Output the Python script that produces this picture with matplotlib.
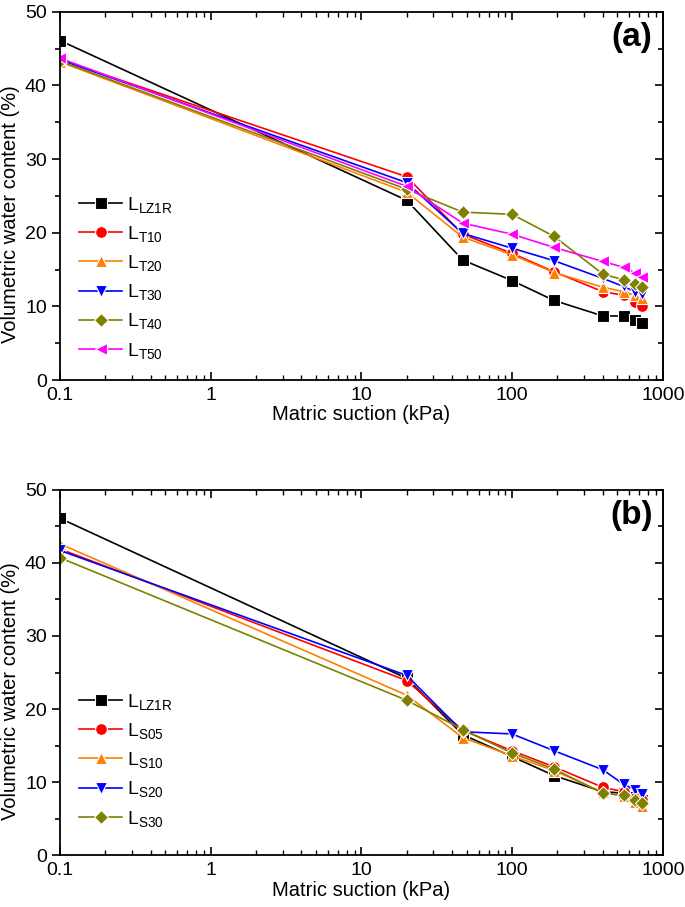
import numpy as np
import matplotlib
matplotlib.use("Agg")
import matplotlib.pyplot as plt
from matplotlib.ticker import LogLocator, FuncFormatter, MultipleLocator, NullFormatter

plt.rcParams['font.family'] = ['Liberation Sans', 'DejaVu Sans']
plt.rcParams['mathtext.default'] = 'regular'

suction = [0.1, 20, 47, 100, 190, 400, 550, 650, 730]

# panel (a)
lz1r = [46.1, 24.4, 16.3, 13.5, 10.8, 8.7, 8.7, 8.2, 7.8]
t10 = [43.5, 27.6, 19.8, 17.2, 14.7, 12.0, 11.5, 10.6, 10.1]
t20 = [43.2, 25.5, 19.4, 17.0, 14.6, 12.6, 12.0, 11.5, 11.1]
t30 = [43.5, 26.8, 19.9, 17.9, 16.2, 13.8, 12.7, 12.0, 11.7]
t40 = [43.3, 25.9, 22.8, 22.5, 19.5, 14.4, 13.6, 13.0, 12.6]
t50 = [43.7, 26.3, 21.3, 19.8, 18.0, 16.1, 15.3, 14.6, 14.0]

# panel (b)
lz1r_b = [46.1, 24.2, 16.5, 13.5, 10.9, 8.7, 8.5, 8.0, 7.6]
s05 = [41.9, 23.9, 17.1, 14.3, 12.1, 9.3, 8.7, 7.9, 7.6]
s10 = [42.6, 21.9, 16.1, 13.6, 11.6, 8.6, 8.1, 7.3, 6.8]
s20 = [41.7, 24.6, 16.9, 16.6, 14.3, 11.7, 9.7, 9.0, 8.4]
s30 = [40.7, 21.2, 17.2, 14.0, 11.8, 8.5, 8.2, 7.6, 7.1]

styles = [('black', 's'), ('red', 'o'), ('#ff7f00', '^'),
          ('blue', 'v'), ('#808000', 'D'), ('magenta', '<')]

panel_a = [(lz1r, 'LZ1R'), (t10, 'T10'), (t20, 'T20'), (t30, 'T30'), (t40, 'T40'), (t50, 'T50')]
panel_b = [(lz1r_b, 'LZ1R'), (s05, 'S05'), (s10, 'S10'), (s20, 'S20'), (s30, 'S30')]

fig = plt.figure(figsize=(6.85, 9.07), dpi=100)
ax_a = fig.add_axes([0.0876, 0.581, 0.880, 0.406])
ax_b = fig.add_axes([0.0876, 0.057, 0.880, 0.403])


def draw(ax, series, tag, leg_y):
    for (vals, name), (col, mk) in zip(series, styles):
        ms = 8.5 if mk in ('o', 's') else 9
        if mk == 'D':
            ms = 7.5
        ax.plot(suction, vals, color=col, marker=mk, ms=ms, lw=1.2,
                mec='white', mew=0.8, label=r'L$_{%s}$' % name)
    ax.set_xscale('log')
    ax.set_xlim(0.1, 1000)
    ax.set_ylim(0, 50)
    ax.xaxis.set_major_locator(LogLocator(base=10))
    ax.xaxis.set_minor_locator(LogLocator(base=10, subs=np.arange(2, 10)))
    ax.xaxis.set_minor_formatter(NullFormatter())
    ax.xaxis.set_major_formatter(FuncFormatter(lambda v, p: '%g' % v))
    ax.yaxis.set_major_locator(MultipleLocator(10))
    ax.yaxis.set_minor_locator(MultipleLocator(5))
    ax.tick_params(axis='x', which='both', direction='in', top=True, labelsize=14, pad=5)
    ax.tick_params(axis='x', which='major', length=6, width=1.2)
    ax.tick_params(axis='x', which='minor', length=3.5, width=1)
    ax.tick_params(axis='y', which='both', direction='out', labelsize=14, width=1.2)
    ax.tick_params(axis='y', which='major', length=6)
    ax.tick_params(axis='y', which='minor', length=3.5)
    for s in ax.spines.values():
        s.set_linewidth(1.3)
    ax.set_xlabel('Matric suction (kPa)', fontsize=14.5, labelpad=1)
    ax.set_ylabel('Volumetric water content (%)', fontsize=14.5)
    ax.yaxis.set_label_coords(-0.066, 0.45)
    ax.text(0.983, 0.972, tag, transform=ax.transAxes, ha='right', va='top',
            fontsize=24, fontweight='bold')
    ax.legend(loc='lower left', bbox_to_anchor=(0.0, leg_y), frameon=False,
              fontsize=14, handlelength=2.2, handletextpad=0.25,
              labelspacing=0.47, borderaxespad=0.6)

    sec = ax.secondary_yaxis('right')
    sec.yaxis.set_major_locator(MultipleLocator(10))
    sec.yaxis.set_minor_locator(MultipleLocator(5))
    sec.tick_params(which='both', direction='in', labelright=False, width=1.2)
    sec.tick_params(which='major', length=6)
    sec.tick_params(which='minor', length=3.5)
    sec.spines['right'].set_linewidth(1.3)


draw(ax_a, panel_a, '(a)', 0.0)
draw(ax_b, panel_b, '(b)', 0.02)

fig.savefig('out.png', dpi=100, facecolor='white')
